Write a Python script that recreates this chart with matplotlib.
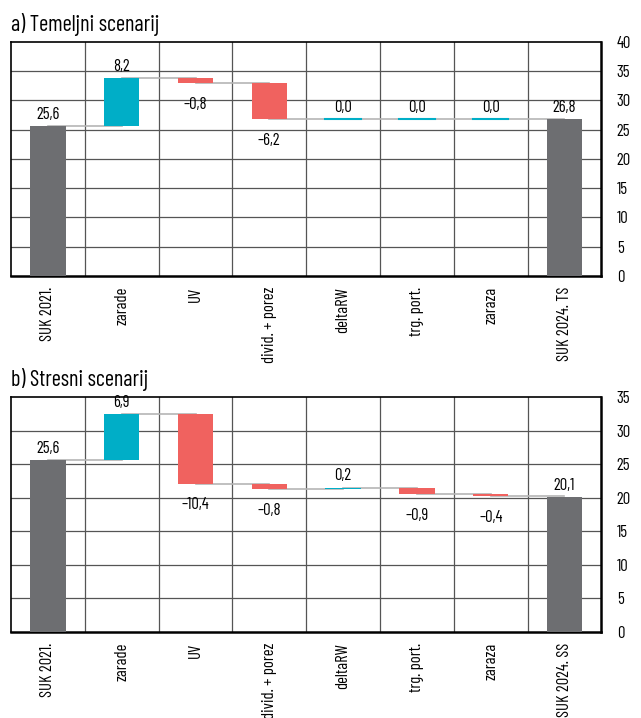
import matplotlib
matplotlib.use("Agg")
import matplotlib.pyplot as plt
import numpy as np

# ---------------- data ----------------
categories_a = ["SUK 2021.", "zarade", "UV", "divid. + porez", "deltaRW", "trg. port.", "zaraza", "SUK 2024. TS"]
categories_b = ["SUK 2021.", "zarade", "UV", "divid. + porez", "deltaRW", "trg. port.", "zaraza", "SUK 2024. SS"]
start_a, end_a = 25.6, 26.8
changes_a = [8.2, -0.8, -6.2, 0.0, 0.0, 0.0]
start_b, end_b = 25.6, 20.1
changes_b = [6.9, -10.4, -0.8, 0.2, -0.9, -0.4]
title_a = "a) Temeljni scenarij"
title_b = "b) Stresni scenarij"
yticks_a = [0, 5, 10, 15, 20, 25, 30, 35, 40]
yticks_b = [0, 5, 10, 15, 20, 25, 30, 35]

# ---------------- style ----------------
plt.rcParams["font.family"] = ["Barlow Condensed", "DejaVu Sans"]

GRAY = "#6d6e71"
CYAN = "#00aec7"
RED = "#f0625f"
CONN = "#b5b5b5"
GRID = "#555555"
FS = 12


def fmt(v):
    s = f"{abs(v):.1f}".replace(".", ",")
    if v < 0:
        s = "\u2013" + s
    return s


def waterfall(ax, cats, start, changes, end, yticks, title):
    n = len(cats)
    x = np.arange(n)
    w = 0.48
    levels = [start]
    for c in changes:
        levels.append(levels[-1] + c)
    ax.bar([0, n - 1], [start, end], width=w, color=GRAY, zorder=3)
    for i in range(n - 1):
        lv = levels[i]
        ax.plot([x[i], x[i + 1]], [lv, lv], color=CONN, lw=1.2, zorder=2)
    for i, c in enumerate(changes):
        xi = x[i + 1]
        base = levels[i]
        if c == 0:
            ax.plot([xi - w / 2, xi + w / 2], [base, base], color=CYAN, lw=1.5, zorder=3)
        else:
            ax.bar(xi, c, bottom=base, width=w, color=CYAN if c > 0 else RED, zorder=3)
        top = max(base, base + c)
        bot = min(base, base + c)
        if c >= 0:
            ax.annotate(fmt(c), (xi, top), xytext=(0, 3), textcoords="offset points",
                        ha="center", va="bottom", fontsize=FS, zorder=4)
        else:
            ax.annotate(fmt(c), (xi, bot), xytext=(0, -10), textcoords="offset points",
                        ha="center", va="top", fontsize=FS, zorder=4)
    for xi, v in [(0, start), (n - 1, end)]:
        ax.annotate(fmt(v), (xi, v), xytext=(0, 3), textcoords="offset points",
                    ha="center", va="bottom", fontsize=FS, zorder=4)

    ax.set_xlim(-0.5, n - 0.5)
    ax.set_ylim(yticks[0], yticks[-1])
    ax.set_yticks(yticks)
    ax.yaxis.tick_right()
    ax.tick_params(axis="y", length=0, pad=11, labelsize=FS)
    ax.set_xticks(x)
    ax.set_xticklabels(cats, rotation=90, fontsize=FS)
    ax.tick_params(axis="x", length=0, pad=8)
    for yv in yticks[1:-1]:
        ax.axhline(yv, color=GRID, lw=0.9, zorder=1)
    for b in np.arange(0.5, n - 0.5, 1.0):
        ax.axvline(b, color=GRID, lw=0.9, zorder=1)
    for s in ax.spines.values():
        s.set_color("black")
        s.set_linewidth(1.2)
    ax.spines["bottom"].set_linewidth(1.8)
    ax.spines["right"].set_linewidth(1.8)
    ax.set_title(title, loc="left", fontsize=16, pad=8)


fig = plt.figure(figsize=(6.41, 7.18), dpi=100)
ax1 = fig.add_axes([0.0172, 0.6156, 0.921, 0.326])
ax2 = fig.add_axes([0.0172, 0.1198, 0.921, 0.3273])
waterfall(ax1, categories_a, start_a, changes_a, end_a, yticks_a, title_a)
waterfall(ax2, categories_b, start_b, changes_b, end_b, yticks_b, title_b)
fig.savefig("out.png", dpi=100)
